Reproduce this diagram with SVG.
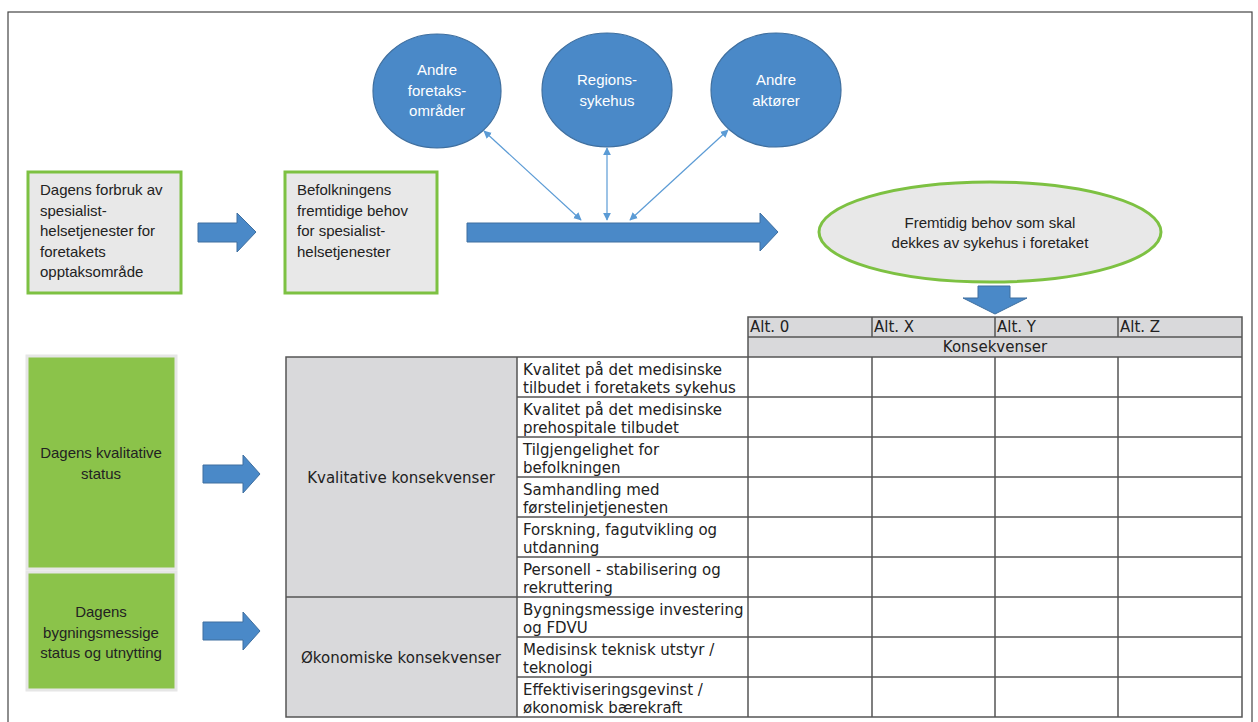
<svg xmlns="http://www.w3.org/2000/svg" width="1258" height="722" viewBox="0 0 1258 722">
<defs>
<style>
.frame{fill:#fff;stroke:#444;stroke-width:1.2}
.gbox{fill:#e8e8e8;stroke:#7dc142;stroke-width:3}
.circ{fill:#4a89c8;stroke:#3f6f9f;stroke-width:1.2}
.blk{fill:#4a89c8;stroke:#3f6f9f;stroke-width:1}
.green{fill:#8bc34a;stroke:#e6e6e6;stroke-width:3}
.t{font-family:"Liberation Sans Narrow","Liberation Sans",Arial,sans-serif;font-size:15px;fill:#222}
.tw{font-family:"Liberation Sans Narrow","Liberation Sans",Arial,sans-serif;font-size:15px;fill:#fff;text-anchor:middle}
.tc{text-anchor:middle}
.tb{font-family:"DejaVu Sans",Verdana,sans-serif;font-size:15px;fill:#222}
.hdr{fill:#d9d9db;stroke:none}
.grid{stroke:#555;stroke-width:1.5;fill:none}
.thin{stroke:#5b9bd5;stroke-width:1.2;fill:none;marker-start:url(#ah);marker-end:url(#ah)}
</style>
<marker id="ah" viewBox="0 0 10 10" refX="9" refY="5" markerWidth="8" markerHeight="8" orient="auto-start-reverse" markerUnits="userSpaceOnUse">
<path d="M0,0 L10,5 L0,10 z" fill="#5b9bd5"/>
</marker>
</defs>
<rect x="0" y="0" width="1258" height="722" fill="#fff"/>
<rect class="frame" x="8" y="12" width="1244" height="720"/>

<g id="connectors">
<polygon class="blk" points="198,223 237,223 237,213 256,232 237,252 237,242 198,242"/>
<polygon class="blk" points="467,223 760,223 760,213 778,232 760,251 760,242 467,242"/>
<polygon class="blk" points="203,465 243,465 243,455 260,474 243,493 243,483 203,483"/>
<polygon class="blk" points="203,622 243,622 243,612 260,631 243,650 243,640 203,640"/>
<polygon class="blk" points="978,286 1010,286 1010,298 1027,298 995,314 963,298 978,298"/>
<line class="thin" x1="484" y1="131" x2="581" y2="220"/>
<line class="thin" x1="607" y1="148" x2="607" y2="220"/>
<line class="thin" x1="728" y1="130" x2="630" y2="220"/>
</g>

<g id="n-dagens-forbruk">
<rect class="gbox" x="28" y="172" width="153" height="121"/>
<text class="t" x="40" y="195">Dagens forbruk av</text>
<text class="t" x="40" y="215.5">spesialist-</text>
<text class="t" x="40" y="236">helsetjenester for</text>
<text class="t" x="40" y="256.5">foretakets</text>
<text class="t" x="40" y="277">opptaksområde</text>
</g>

<g id="n-befolkningens">
<rect class="gbox" x="285" y="172" width="152" height="121"/>
<text class="t" x="297" y="195">Befolkningens</text>
<text class="t" x="297" y="215.5">fremtidige behov</text>
<text class="t" x="297" y="236">for spesialist-</text>
<text class="t" x="297" y="256.5">helsetjenester</text>
</g>

<g id="n-andre-foretak">
<ellipse class="circ" cx="437" cy="91" rx="64" ry="57"/>
<text class="tw" x="437" y="75">Andre</text>
<text class="tw" x="437" y="95.5">foretaks-</text>
<text class="tw" x="437" y="116">områder</text>
</g>

<g id="n-regions">
<ellipse class="circ" cx="607" cy="90" rx="65" ry="57"/>
<text class="tw" x="607" y="85">Regions-</text>
<text class="tw" x="607" y="105.5">sykehus</text>
</g>

<g id="n-andre-aktorer">
<ellipse class="circ" cx="776" cy="90" rx="65" ry="57"/>
<text class="tw" x="776" y="85">Andre</text>
<text class="tw" x="776" y="105.5">aktører</text>
</g>

<g id="n-fremtidig">
<ellipse class="gbox" cx="990" cy="232" rx="171" ry="50"/>
<text class="t tc" x="990" y="228">Fremtidig behov som skal</text>
<text class="t tc" x="990" y="248">dekkes av sykehus i foretaket</text>
</g>

<g id="n-kvalitativ-status">
<rect class="green" x="27" y="356" width="149" height="213"/>
<text class="t tc" x="101" y="458">Dagens kvalitative</text>
<text class="t tc" x="101" y="479">status</text>
</g>

<g id="n-bygning-status">
<rect class="green" x="27" y="572" width="149" height="118"/>
<text class="t tc" x="101" y="617">Dagens</text>
<text class="t tc" x="101" y="637.5">bygningsmessige</text>
<text class="t tc" x="101" y="658">status og utnytting</text>
</g>

<g id="n-table">
<rect class="hdr" x="748" y="317" width="494" height="40"/>
<rect class="hdr" x="286" y="357" width="231" height="360"/>
<path class="grid" d="M748,317 H1242 V717 H286 V357 H748 Z M748,317 V717 M748,337 H1242 M748,357 H1242 M872,317 V337 M995,317 V337 M1118,317 V337 M872,357 V717 M995,357 V717 M1118,357 V717 M517,357 V717 M517,397 H1242 M517,437 H1242 M517,477 H1242 M517,517 H1242 M517,557 H1242 M286,597 H1242 M517,637 H1242 M517,677 H1242"/>
<text class="tb" x="750" y="332">Alt. 0</text>
<text class="tb" x="874" y="332">Alt. X</text>
<text class="tb" x="997" y="332">Alt. Y</text>
<text class="tb" x="1120" y="332">Alt. Z</text>
<text class="tb tc" x="995" y="352">Konsekvenser</text>
<text class="tb tc" x="401" y="483">Kvalitative konsekvenser</text>
<text class="tb tc" x="401" y="663">Økonomiske konsekvenser</text>
<text class="tb" x="523" y="375">Kvalitet på det medisinske</text>
<text class="tb" x="523" y="393">tilbudet i foretakets sykehus</text>
<text class="tb" x="523" y="415">Kvalitet på det medisinske</text>
<text class="tb" x="523" y="433">prehospitale tilbudet</text>
<text class="tb" x="523" y="455">Tilgjengelighet for</text>
<text class="tb" x="523" y="473">befolkningen</text>
<text class="tb" x="523" y="495">Samhandling med</text>
<text class="tb" x="523" y="513">førstelinjetjenesten</text>
<text class="tb" x="523" y="535">Forskning, fagutvikling og</text>
<text class="tb" x="523" y="553">utdanning</text>
<text class="tb" x="523" y="575">Personell - stabilisering og</text>
<text class="tb" x="523" y="593">rekruttering</text>
<text class="tb" x="523" y="615">Bygningsmessige investering</text>
<text class="tb" x="523" y="633">og FDVU</text>
<text class="tb" x="523" y="655">Medisinsk teknisk utstyr /</text>
<text class="tb" x="523" y="673">teknologi</text>
<text class="tb" x="523" y="695">Effektiviseringsgevinst /</text>
<text class="tb" x="523" y="713">økonomisk bærekraft</text>
</g>
</svg>
